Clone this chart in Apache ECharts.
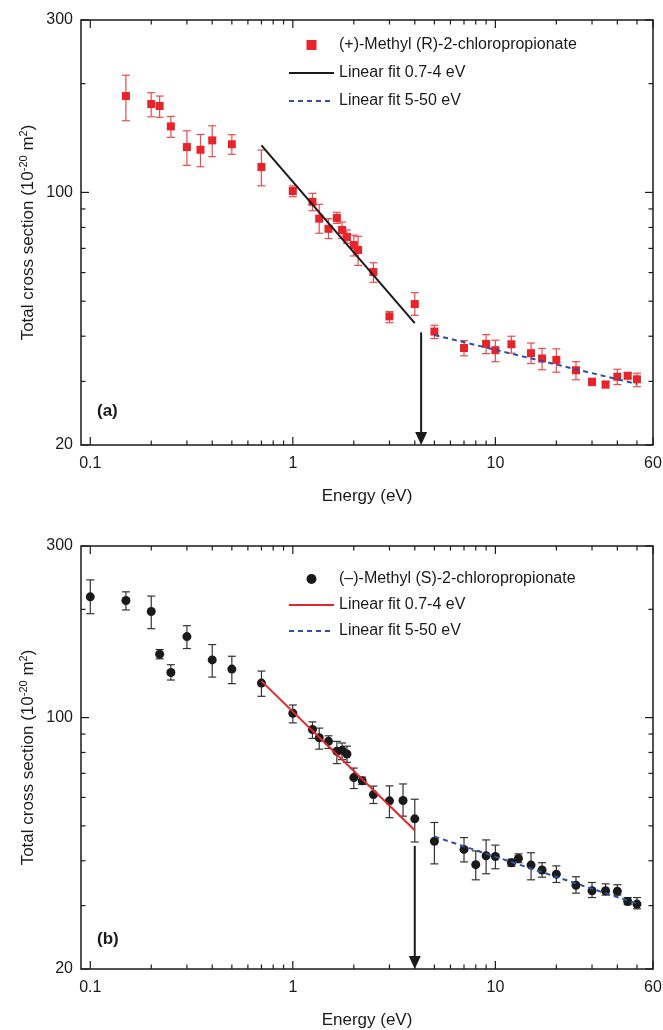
<!DOCTYPE html>
<html>
<head>
<meta charset="utf-8">
<script src="https://cdn.jsdelivr.net/npm/echarts@6/dist/echarts.min.js"></script>
<style>
  html, body { margin: 0; padding: 0; background: #fff; }
  #chart { width: 663px; height: 1030px; }
</style>
</head>
<body>
<div id="chart"></div>
<script>
// panel (a): (+)-Methyl (R)-2-chloropropionate
var energyA = [0.15, 0.2, 0.22, 0.25, 0.3, 0.35, 0.4, 0.5, 0.7, 1.0, 1.25, 1.35, 1.5, 1.65, 1.75, 1.85, 2.0, 2.1, 2.5, 3.0, 4.0,
  5, 7, 9, 10, 12, 15, 17, 20, 25, 30, 35, 40, 45, 50];
var sigmaA = [184.8, 175.6, 173.4, 152.3, 133.5, 131.2, 139.3, 135.9, 117.6, 100.9, 94.2, 84.6, 79.3, 85.0, 78.7, 75.3, 71.5, 69.3, 60.2, 45.4, 49.1,
  41.2, 37.1, 38.1, 36.6, 38.0, 35.9, 34.7, 34.4, 32.2, 29.9, 29.4, 30.9, 31.1, 30.4];
var errHiA = [211, 188.8, 184.8, 162.3, 148.1, 144.7, 152.9, 144.4, 131, 104.3, 99.4, 92.7, 84.6, 88.1, 82.8, 78.7, 76.2, 75.6, 63.9, 46.8, 52.8,
  42.9, 38.9, 40.4, 39.0, 40.0, 38.3, 37.0, 36.9, 34.0, 30.6, 30.0, 32.4, 31.7, 31.6];
var errLoA = [157.9, 161.9, 161.4, 142, 118.8, 117.8, 125.6, 127.5, 104.3, 97.3, 89.0, 77.1, 74.5, 82.1, 74.6, 72.3, 66.7, 62.8, 56.4, 43.6, 45.7,
  39.4, 35.3, 35.8, 34.0, 35.9, 33.6, 32.3, 31.8, 30.3, 29.2, 28.8, 29.4, 30.5, 29.0];
var fitLowA = [[0.7, 135], [4, 43.5]];
var fitHighA = [[5, 40.3], [50, 29.5]];
var arrowA = [[4.3, 41]];

// panel (b): (–)-Methyl (S)-2-chloropropionate
var energyB = [0.1, 0.15, 0.2, 0.22, 0.25, 0.3, 0.4, 0.5, 0.7, 1.0, 1.25, 1.35, 1.5, 1.65, 1.75, 1.85, 2.0, 2.2, 2.5, 3.0, 3.5, 4.0,
  5, 7, 8, 9, 10, 12, 13, 15, 17, 20, 25, 30, 35, 40, 45, 50];
var sigmaB = [216.7, 211.7, 197.3, 150.1, 133.5, 168, 144.7, 136.4, 124.7, 102.8, 92.7, 87.9, 85.9, 80.6, 81.1, 79.2, 68.1, 66.7, 61.1, 58.7, 58.8, 52.3,
  45.3, 43.0, 39.0, 41.3, 41.1, 39.5, 40.6, 38.9, 37.7, 36.7, 34.2, 33.0, 33.0, 32.9, 30.8, 30.3];
var errHiB = [241.5, 223.7, 217.7, 154.6, 140.3, 180.1, 159.6, 148.1, 134.7, 108.4, 97.3, 93.5, 89.0, 85.9, 85.0, 83.3, 72.4, 68.3, 64.5, 64.6, 65.4, 59.3,
  51.1, 46.4, 42.6, 45.7, 44.2, 40.4, 41.8, 42.1, 39.5, 38.7, 36.1, 34.8, 34.5, 34.3, 31.6, 31.6];
var errLoB = [194.5, 199.2, 176.7, 145.7, 127.2, 155.6, 129.6, 124.3, 114.6, 96.7, 87.5, 81.7, 82.1, 74.5, 76.4, 75.1, 63.5, 65.2, 57.7, 52.7, 53.2, 45.1,
  39.2, 39.7, 35.4, 36.8, 38.0, 38.6, 39.5, 35.4, 36.0, 34.8, 32.5, 31.6, 32.1, 32.1, 30.2, 29.4];
var fitLowB = [[0.7, 126.3], [4, 48.6]];
var fitHighB = [[5, 46.7], [50, 30.4]];
var arrowB = [[4.0, 44]];

// axis ticks
var xMajor = [0.1, 1, 10, 60];
var xMinor = [0.2, 0.3, 0.4, 0.5, 0.6, 0.7, 0.8, 0.9, 2, 3, 4, 5, 6, 7, 8, 9, 20, 30, 40, 50];
var yMajor = [20, 100, 300];
var yMinor = [30, 40, 50, 60, 70, 80, 90, 200];

var FONT = "'Liberation Sans', Arial, sans-serif";
var INK = '#1a1a1a';
var RED = '#e8232a';
var BLUE = '#2f4ea6';

function pairs(xs, ys) {
  return xs.map(function(x, i) { return [x, ys[i]]; });
}

function bars(xs, lo, hi) {
  return xs.map(function(x, i) { return [x, lo[i], hi[i]]; });
}

function tickItems() {
  var items = [];
  xMajor.forEach(function(v) { items.push([v, 100, 1]); });
  xMinor.forEach(function(v) { items.push([v, 100, 0]); });
  yMajor.forEach(function(v) { items.push([1, v, 3]); });
  yMinor.forEach(function(v) { items.push([1, v, 2]); });
  return items;
}

function txt(text, x, y, align, valign) {
  return {
    type: 'text',
    style: {
      text: text, x: x, y: y, fill: INK, font: '16px ' + FONT,
      align: align, textAlign: align, verticalAlign: valign, textVerticalAlign: valign
    }
  };
}

function renderTick(params, api) {
  var cs = params.coordSys;
  var kind = api.value(2);
  var major = kind === 1 || kind === 3;
  var len = major ? 8 : 4.5;
  var ls = { stroke: INK, lineWidth: 1.2 };
  var kids = [];
  if (kind < 2) {
    var x = api.coord([api.value(0), 100])[0];
    var b = cs.y + cs.height, t = cs.y;
    kids.push({ type: 'line', shape: { x1: x, y1: b, x2: x, y2: b - len }, style: ls });
    kids.push({ type: 'line', shape: { x1: x, y1: t, x2: x, y2: t + len }, style: ls });
    if (major) kids.push(txt(String(api.value(0)), x, b + 11, 'center', 'top'));
  } else {
    var y = api.coord([1, api.value(1)])[1];
    var l = cs.x, r = cs.x + cs.width;
    kids.push({ type: 'line', shape: { x1: l, y1: y, x2: l + len, y2: y }, style: ls });
    kids.push({ type: 'line', shape: { x1: r, y1: y, x2: r - len, y2: y }, style: ls });
    if (major) kids.push(txt(String(api.value(1)), l - 8, y, 'right', 'middle'));
  }
  return { type: 'group', children: kids };
}

function errRenderer(color) {
  return function(params, api) {
    var x = api.value(0);
    var p1 = api.coord([x, api.value(2)]);
    var p2 = api.coord([x, api.value(1)]);
    var hw = 4;
    var st = { stroke: color, lineWidth: 1.2 };
    return {
      type: 'group',
      children: [
        { type: 'line', shape: { x1: p1[0], y1: p1[1], x2: p2[0], y2: p2[1] }, style: st },
        { type: 'line', shape: { x1: p1[0] - hw, y1: p1[1], x2: p1[0] + hw, y2: p1[1] }, style: st },
        { type: 'line', shape: { x1: p2[0] - hw, y1: p2[1], x2: p2[0] + hw, y2: p2[1] }, style: st }
      ]
    };
  };
}

function renderArrow(params, api) {
  var cs = params.coordSys;
  var p = api.coord([api.value(0), api.value(1)]);
  var b = cs.y + cs.height;
  var head = 13;
  return {
    type: 'group',
    children: [
      { type: 'line', shape: { x1: p[0], y1: p[1], x2: p[0], y2: b - head + 1 }, style: { stroke: INK, lineWidth: 2 } },
      { type: 'polygon', shape: { points: [[p[0] - 6, b - head], [p[0] + 6, b - head], [p[0], b]] }, style: { fill: INK } }
    ]
  };
}

function xAxisOf(i) {
  return {
    type: 'log', gridIndex: i, min: 0.09, max: 60,
    axisLine: { show: false }, axisTick: { show: false }, axisLabel: { show: false }, splitLine: { show: false },
    name: 'Energy (eV)', nameLocation: 'middle', nameGap: 43,
    nameTextStyle: { fontSize: 17, color: INK, fontFamily: FONT }
  };
}

function yAxisOf(i) {
  return {
    type: 'log', gridIndex: i, min: 20, max: 300,
    axisLine: { show: false }, axisTick: { show: false }, axisLabel: { show: false }, splitLine: { show: false },
    name: 'Total cross section (10{sup|-20} m{sup|2})', nameLocation: 'middle', nameGap: 42,
    nameTextStyle: {
      fontSize: 17, color: INK, fontFamily: FONT,
      rich: { sup: { fontSize: 11, color: INK, fontFamily: FONT, padding: [0, 0, 10, 0] } }
    }
  };
}

function panelSeries(i, names, data) {
  return [
    { type: 'custom', xAxisIndex: i, yAxisIndex: i, silent: true, z: 2, renderItem: errRenderer(data.errColor),
      encode: { x: 0, y: [1, 2] }, data: data.err },
    { type: 'scatter', name: names[0], xAxisIndex: i, yAxisIndex: i, silent: true, z: 3,
      symbol: data.symbol, symbolSize: data.symbolSize, itemStyle: { color: data.color, opacity: 1 }, data: data.points },
    { type: 'line', name: names[1], xAxisIndex: i, yAxisIndex: i, silent: true, z: 4, symbol: 'none',
      itemStyle: { color: data.fitColor }, lineStyle: { color: data.fitColor, width: 2 }, data: data.fitLow },
    { type: 'line', name: names[2], xAxisIndex: i, yAxisIndex: i, silent: true, z: 4, symbol: 'none',
      itemStyle: { color: BLUE }, lineStyle: { color: BLUE, width: 2, type: [5, 4] }, data: data.fitHigh },
    { type: 'custom', xAxisIndex: i, yAxisIndex: i, silent: true, z: 5, renderItem: renderArrow,
      encode: { x: 0, y: 1 }, data: data.arrow },
    { type: 'custom', xAxisIndex: i, yAxisIndex: i, silent: true, z: 6, renderItem: renderTick,
      encode: { x: 0, y: 1 }, data: tickItems() }
  ];
}

var namesA = ['(+)-Methyl (R)-2-chloropropionate', 'Linear fit 0.7-4 eV', 'Linear fit 5-50 eV'];
// trailing spaces keep the two legends apart (same visible text)
var namesB = ['(\u2013)-Methyl (S)-2-chloropropionate', 'Linear fit 0.7-4 eV ', 'Linear fit 5-50 eV '];

function legendOf(names, top, gap, markerIcon) {
  return {
    data: [
      { name: names[0], icon: markerIcon },
      { name: names[1], itemStyle: { opacity: 0 } },
      { name: names[2], itemStyle: { opacity: 0 } }
    ],
    orient: 'vertical', left: 288, top: top, padding: 0, selectedMode: false,
    itemWidth: 45, itemHeight: 10, itemGap: gap, symbolKeepAspect: true,
    textStyle: { fontSize: 16, lineHeight: 18, color: INK, fontFamily: FONT }
  };
}

var chart = echarts.init(document.getElementById('chart'));
chart.setOption({
  backgroundColor: '#fff',
  animation: false,
  grid: [
    { left: 81, top: 20, width: 572, height: 425, show: true, borderColor: INK, borderWidth: 1.5, backgroundColor: 'transparent' },
    { left: 81, top: 546, width: 572, height: 425, show: true, borderColor: INK, borderWidth: 1.5, backgroundColor: 'transparent' }
  ],
  xAxis: [xAxisOf(0), xAxisOf(1)],
  yAxis: [yAxisOf(0), yAxisOf(1)],
  legend: [
    legendOf(namesA, 36, 10, 'path://M0,0h10v10h-10z'),
    legendOf(namesB, 570, 8, 'circle')
  ],
  graphic: [
    { type: 'text', left: 97, top: 403, style: { text: '(a)', font: 'bold 17px ' + FONT, fill: INK } },
    { type: 'text', left: 97, top: 931, style: { text: '(b)', font: 'bold 17px ' + FONT, fill: INK } }
  ],
  series: panelSeries(0, namesA, {
    points: pairs(energyA, sigmaA), err: bars(energyA, errLoA, errHiA), errColor: '#ec4a4f',
    symbol: 'rect', symbolSize: 8, color: RED, fitColor: INK,
    fitLow: fitLowA, fitHigh: fitHighA, arrow: arrowA
  }).concat(panelSeries(1, namesB, {
    points: pairs(energyB, sigmaB), err: bars(energyB, errLoB, errHiB), errColor: '#333',
    symbol: 'circle', symbolSize: 9, color: INK, fitColor: RED,
    fitLow: fitLowB, fitHigh: fitHighB, arrow: arrowB
  }))
});
</script>
</body>
</html>
